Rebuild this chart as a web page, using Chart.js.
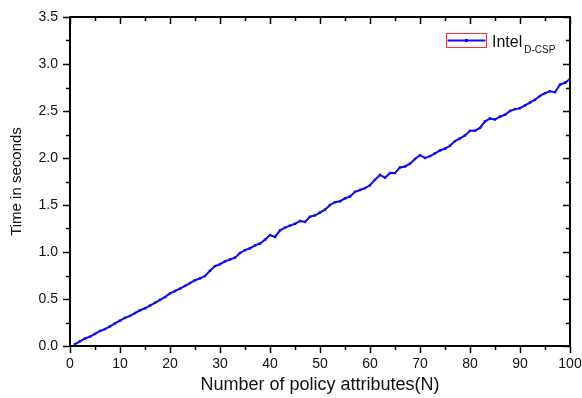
<!DOCTYPE html>
<html>
<head>
<meta charset="utf-8">
<script src="https://cdn.jsdelivr.net/npm/chart.js@4/dist/chart.umd.min.js"></script>
<style>
  html, body { margin: 0; padding: 0; background: #fff; }
  #wrap { width: 582px; height: 398px; position: relative; }
</style>
</head>
<body>
<div id="wrap"><canvas id="c" width="582" height="398"></canvas></div>
<script>
// ---- data ----
const attributesN = [];
for (let i = 1; i <= 100; i++) attributesN.push(i);

const timeSeconds = [
  0.02, 0.05, 0.08, 0.10, 0.13, 0.16, 0.18, 0.21, 0.24, 0.27,
  0.30, 0.32, 0.35, 0.38, 0.40, 0.43, 0.46, 0.49, 0.52, 0.56,
  0.585, 0.61, 0.64, 0.67, 0.70, 0.72, 0.745, 0.80, 0.85, 0.87,
  0.90, 0.92, 0.94, 0.99, 1.02, 1.04, 1.07, 1.09, 1.13, 1.18,
  1.16, 1.23, 1.26, 1.28, 1.30, 1.33, 1.32, 1.375, 1.39, 1.42,
  1.45, 1.50, 1.53, 1.54, 1.57, 1.59, 1.64, 1.66, 1.68, 1.71,
  1.77, 1.82, 1.79, 1.84, 1.84, 1.90, 1.91, 1.94, 1.99, 2.03,
  2.00, 2.02, 2.05, 2.08, 2.10, 2.13, 2.18, 2.21, 2.24, 2.29,
  2.29, 2.32, 2.39, 2.42, 2.41, 2.44, 2.46, 2.50, 2.52, 2.53,
  2.56, 2.59, 2.62, 2.66, 2.69, 2.71, 2.70, 2.78, 2.80, 2.84
];

const seriesName = 'Intel';
const seriesSub = 'D-CSP';
const xTitle = 'Number of policy attributes(N)';
const yTitle = 'Time in seconds';
const xTicks = [0, 10, 20, 30, 40, 50, 60, 70, 80, 90, 100];
const yTicks = [0.0, 0.5, 1.0, 1.5, 2.0, 2.5, 3.0, 3.5];

const FONT = '"Liberation Sans", Arial, sans-serif';
const LINE_BLUE = '#0a0aff';
const TEXT_COLOR = '#111';

const points = attributesN.map((n, i) => ({ x: n, y: timeSeconds[i] }));

const framePlugin = {
  id: 'frame',
  afterDraw(chart) {
    const ctx = chart.ctx;
    const xs = chart.scales.x, ys = chart.scales.y;
    const a = chart.chartArea;
    ctx.save();
    ctx.strokeStyle = '#000';
    // minor ticks
    ctx.lineWidth = 1.5;
    ctx.beginPath();
    for (let v = 5; v < 100; v += 10) {
      const px = Math.round(xs.getPixelForValue(v)) + 0.5;
      ctx.moveTo(px, a.bottom); ctx.lineTo(px, a.bottom + 4);
      ctx.moveTo(px, a.top); ctx.lineTo(px, a.top + 4);
    }
    for (let v = 0.25; v < 3.5; v += 0.5) {
      const py = Math.round(ys.getPixelForValue(v)) + 0.5;
      ctx.moveTo(a.left, py); ctx.lineTo(a.left - 4, py);
      ctx.moveTo(a.right, py); ctx.lineTo(a.right - 4, py);
    }
    // major inward ticks on top/right
    xTicks.forEach(v => {
      const px = Math.round(xs.getPixelForValue(v)) + 0.5;
      ctx.moveTo(px, a.top); ctx.lineTo(px, a.top + 7);
    });
    yTicks.forEach(v => {
      const py = Math.round(ys.getPixelForValue(v)) + 0.5;
      ctx.moveTo(a.right, py); ctx.lineTo(a.right - 7, py);
    });
    ctx.stroke();
    // top and right frame
    ctx.lineWidth = 2;
    ctx.beginPath();
    ctx.moveTo(a.left, a.top); ctx.lineTo(a.right, a.top); ctx.lineTo(a.right, a.bottom);
    ctx.stroke();

    // legend
    const bx = 446.5, by = 33.5, bw = 40, bh = 14;
    ctx.strokeStyle = '#ff3030';
    ctx.lineWidth = 1;
    ctx.strokeRect(bx, by, bw, bh);
    ctx.strokeStyle = LINE_BLUE;
    ctx.lineWidth = 2;
    ctx.beginPath();
    ctx.moveTo(bx + 1, by + 7); ctx.lineTo(bx + bw - 1, by + 7);
    ctx.stroke();
    ctx.fillStyle = LINE_BLUE;
    ctx.fillRect(bx + bw / 2 - 1.5, by + 5.5, 3, 3);
    ctx.fillStyle = TEXT_COLOR;
    ctx.font = '16px ' + FONT;
    ctx.textBaseline = 'alphabetic';
    ctx.textAlign = 'left';
    ctx.fillText(seriesName, 492, 47);
    const w = ctx.measureText(seriesName).width;
    ctx.font = '10px ' + FONT;
    ctx.fillText(seriesSub, 492 + w + 2, 53);
    ctx.restore();
  }
};

new Chart(document.getElementById('c'), {
  type: 'line',
  data: {
    datasets: [{
      label: seriesName + ' ' + seriesSub,
      data: points,
      borderColor: LINE_BLUE,
      backgroundColor: LINE_BLUE,
      borderWidth: 2,
      pointStyle: 'rect',
      pointRadius: 1.7,
      pointBorderWidth: 0,
      pointBackgroundColor: LINE_BLUE,
      tension: 0,
      fill: false
    }]
  },
  options: {
    responsive: false,
    animation: false,
    devicePixelRatio: 1,
    layout: { padding: { left: 0, top: 17, right: 12, bottom: 0 } },
    plugins: {
      legend: { display: false },
      tooltip: { enabled: false }
    },
    scales: {
      x: {
        type: 'linear',
        min: 0, max: 100,
        afterFit(s) { s.height = 52; s.paddingLeft = 0; s.paddingRight = 0; },
        afterBuildTicks(s) { s.ticks = xTicks.map(v => ({ value: v })); },
        ticks: {
          font: { family: FONT, size: 14 },
          color: TEXT_COLOR,
          padding: 3,
          maxRotation: 0,
          callback: v => String(v)
        },
        grid: { drawOnChartArea: false, drawTicks: true, tickLength: 7, tickColor: '#000', tickWidth: 1.5 },
        border: { display: true, color: '#000', width: 2 },
        title: { display: true, text: xTitle, color: TEXT_COLOR, font: { family: FONT, size: 18 }, padding: { top: 0, bottom: 2 } }
      },
      y: {
        type: 'linear',
        min: 0, max: 3.5,
        afterFit(s) { s.width = 70; s.paddingTop = 0; s.paddingBottom = 0; },
        afterBuildTicks(s) { s.ticks = yTicks.map(v => ({ value: v })); },
        ticks: {
          font: { family: FONT, size: 14 },
          color: TEXT_COLOR,
          padding: 5,
          callback: v => Number(v).toFixed(1)
        },
        grid: { drawOnChartArea: false, drawTicks: true, tickLength: 7, tickColor: '#000', tickWidth: 1.5 },
        border: { display: true, color: '#000', width: 2 },
        title: { display: true, text: yTitle, color: TEXT_COLOR, font: { family: FONT, size: 15 }, padding: { top: 8, bottom: 0 } }
      }
    }
  },
  plugins: [framePlugin]
});
</script>
</body>
</html>
